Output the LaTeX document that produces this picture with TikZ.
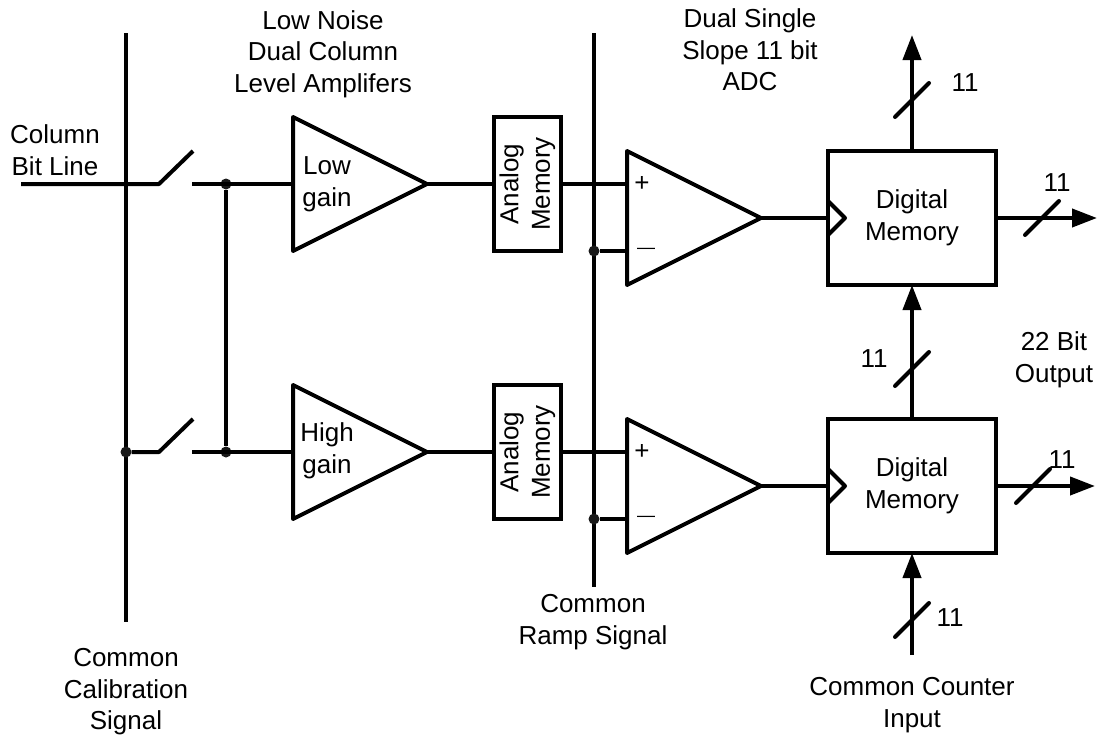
\documentclass[tikz,border=0pt]{standalone}
\usepackage{fontspec}
\setmainfont{Liberation Sans}
\usetikzlibrary{arrows.meta,positioning,shapes.geometric}
\tikzset{
  wire/.style={line width=4pt, line join=round},
  thinwire/.style={line width=3.2pt},
  amp/.style={draw, line width=4pt, line join=round, isosceles triangle, isosceles triangle stretches, minimum width=134pt, minimum height=134pt, inner sep=0pt, outer sep=0pt},
  membox/.style={draw, line width=4pt, minimum width=67pt, minimum height=134pt, inner sep=0pt, outer sep=0pt},
  digbox/.style={draw, line width=4pt, minimum width=168pt, minimum height=134pt, inner sep=0pt, outer sep=0pt, align=center, font=\fontsize{26}{31.5}\selectfont},
  junction/.style={circle, fill=black!90, minimum size=11pt, inner sep=0pt},
  lab/.style={align=center, inner sep=0pt, font=\fontsize{26}{31.5}\selectfont},
  arrowwire/.style={wire, -{Triangle[length=25pt,width=18pt]}}
}
\begin{document}
\begin{tikzpicture}[x=1pt,y=-1pt]
  \useasboundingbox (0,0) rectangle (1098,734);
  % amplifiers and memories
  \node[amp, anchor=apex] (lowamp) at (427,184) {};
  \node[amp, anchor=apex] (highamp) at (427,452) {};
  \node[membox] (mema) at (527.5,184) {};
  \node[membox] (memb) at (527.5,452) {};
  \node[amp, anchor=apex] (adca) at (761,218) {};
  \node[amp, anchor=apex] (adcb) at (761,486) {};
  \node[digbox] (diga) at (912,218) {Digital\\Memory};
  \node[digbox] (digb) at (912,486) {Digital\\Memory};
  \node[lab] (lowtxt) at (327,184) {Low\\gain};
  \node[lab] (hightxt) at (327,451) {High\\gain};
  \node[lab, rotate=90] (mematxt) at (mema) {Analog\\Memory};
  \node[lab, rotate=90] (membtxt) at (memb) {Analog\\Memory};
  \node[lab] (plusa) at (642,184) {+};
  \node[lab] (plusb) at (642,452) {+};
  \node[lab, font=\fontsize{18}{18}\selectfont] (minusa) at (646,251) {—};
  \node[lab, font=\fontsize{18}{18}\selectfont] (minusb) at (646,519) {—};
  % bus lines
  \coordinate (caltop) at (126,33);
  \coordinate (calbot) at (126,622);
  \coordinate (ramptop) at (594,33);
  \coordinate (rampbot) at (594,587);
  \draw[wire] (caltop) -- (calbot);
  \draw[thinwire] (ramptop) -- (rampbot);
  \node[junction] (jcal) at (126,452) {};
  \node[junction] (jlow) at (226,184) {};
  \node[junction] (jhigh) at (226,452) {};
  \node[junction] (jrampa) at (594,251) {};
  \node[junction] (jrampb) at (594,519) {};
  % switches
  \coordinate (bitin) at (21,184);
  \coordinate (swa) at (159,184);
  \coordinate (swatop) at (193,151);
  \coordinate (swaout) at (192,184);
  \coordinate (swb) at (159,452);
  \coordinate (swbtop) at (193,419);
  \coordinate (swbout) at (192,452);
  \draw[wire] (bitin) -- (swa) -- (swatop);
  \draw[wire] (jcal) -- (swb) -- (swbtop);
  \draw[wire] (swaout) -- (lowamp.lower side);
  \draw[wire] (swbout) -- (highamp.lower side);
  \draw[wire] (jlow) -- (jhigh);
  % signal path
  \draw[wire] (lowamp.apex) -- (mema.west);
  \draw[wire] (highamp.apex) -- (memb.west);
  \draw[wire] (mema.east) -- (mema.east -| adca.lower side);
  \draw[wire] (memb.east) -- (memb.east -| adcb.lower side);
  \draw[wire] (jrampa) -- (jrampa -| adca.lower side);
  \draw[wire] (jrampb) -- (jrampb -| adcb.lower side);
  \draw[wire] (adca.apex) -- (diga.west);
  \draw[wire] (adcb.apex) -- (digb.west);
  \draw[wire] ([yshift=-17pt]diga.west) -- ([xshift=17pt]diga.west) -- ([yshift=17pt]diga.west);
  \draw[wire] ([yshift=-17pt]digb.west) -- ([xshift=17pt]digb.west) -- ([yshift=17pt]digb.west);
  % outputs
  \coordinate (outtop) at (912,35);
  \coordinate (outa) at (1097,218);
  \coordinate (outb) at (1095,486);
  \coordinate (cntin) at (912,655);
  \draw[arrowwire] (diga.north) -- (outtop);
  \draw[arrowwire] (diga.east) -- (outa);
  \draw[arrowwire] (digb.east) -- (outb);
  \draw[arrowwire] (digb.north) -- (diga.south);
  \draw[arrowwire] (cntin) -- (digb.south);
  % bus width marks
  \foreach \sx/\sy in {912/100,1042/218,912/369,1033/486,912/620}
    \draw[wire, line cap=round] (\sx-17,\sy+17) -- (\sx+17,\sy-17);
  \node[lab] (wtop) at (965,83) {11};
  \node[lab] (wa) at (1057,183) {11};
  \node[lab] (wmid) at (874,359) {11};
  \node[lab] (wb) at (1062,460) {11};
  \node[lab] (wcnt) at (950,618) {11};
  % captions
  \node[lab] (coltxt) at (55,150) {Column\\Bit Line};
  \node[lab] (amptxt) at (323,54) {Low Noise\\Dual Column\\Level Amplifers};
  \node[lab] (adctxt) at (750,50) {Dual Single\\Slope 11 bit\\ADC};
  \node[lab] (outtxt) at (1054,360) {22 Bit\\Output};
  \node[lab] (ramptxt) at (593,622) {Common\\Ramp Signal};
  \node[lab] (caltxt) at (126,692) {Common\\Calibration\\Signal};
  \node[lab] (cnttxt) at (912,705) {Common Counter\\Input};
\end{tikzpicture}
\end{document}
